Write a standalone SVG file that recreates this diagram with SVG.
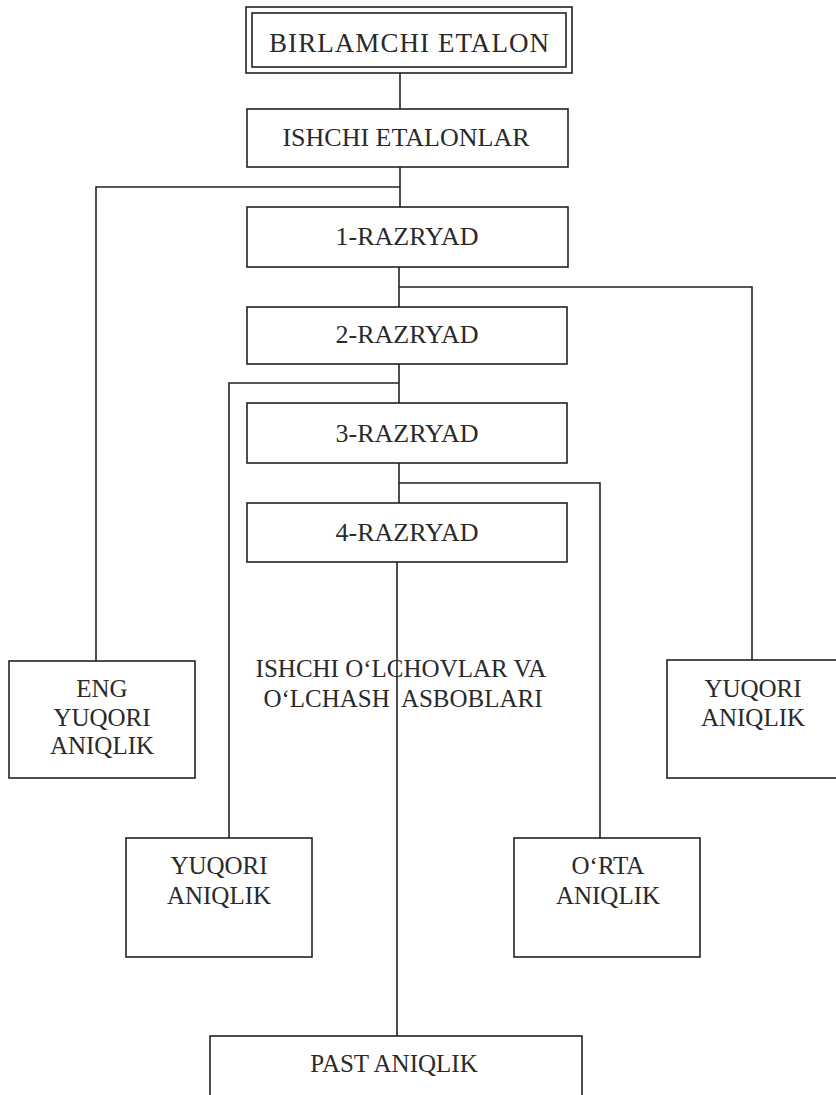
<svg xmlns="http://www.w3.org/2000/svg" width="836" height="1095" viewBox="0 0 836 1095">
<style>
.box{fill:#fff;stroke:#222;stroke-width:1.6}
.ln{fill:none;stroke:#222;stroke-width:1.6}
.t{font-family:"Liberation Serif","Times New Roman",serif;font-size:25px;fill:#2a2a2a;text-anchor:middle}
.u{font-size:26px}
</style>
<rect width="836" height="1095" fill="#fff"/>
<g id="connectors">
<path class="ln" d="M400 73 V109"/>
<path class="ln" d="M400 167 V207 M400 187 H96 V661"/>
<path class="ln" d="M399 267 V307 M399 287 H752 V660"/>
<path class="ln" d="M399 364 V403 M399 383 H229 V838"/>
<path class="ln" d="M399 463 V503 M399 483 H600 V838"/>
<path class="ln" d="M397 562 V1036"/>
</g>
<g id="birlamchi">
<rect class="box" x="246" y="7" width="326" height="66" stroke-width="2"/>
<rect class="box" x="252" y="13" width="314" height="54"/>
<text class="t" x="409" y="52" style="font-size:27px" textLength="280">BIRLAMCHI ETALON</text>
</g>
<g id="ishchi-etalonlar">
<rect class="box" x="247" y="109" width="321" height="58"/>
<text class="t u" x="406" y="146">ISHCHI ETALONLAR</text>
</g>
<g id="razryad1">
<rect class="box" x="247" y="207" width="321" height="60"/>
<text class="t u" x="407" y="245">1-RAZRYAD</text>
</g>
<g id="razryad2">
<rect class="box" x="247" y="307" width="320" height="57"/>
<text class="t u" x="407" y="343">2-RAZRYAD</text>
</g>
<g id="razryad3">
<rect class="box" x="247" y="403" width="320" height="60"/>
<text class="t u" x="407" y="442">3-RAZRYAD</text>
</g>
<g id="razryad4">
<rect class="box" x="247" y="503" width="320" height="59"/>
<text class="t u" x="407" y="541">4-RAZRYAD</text>
</g>
<g id="ishchi-olchovlar">
<text class="t" x="401" y="677">ISHCHI O‘LCHOVLAR VA</text>
<text class="t" x="403" y="707" xml:space="preserve">O‘LCHASH  ASBOBLARI</text>
</g>
<g id="eng-yuqori">
<rect class="box" x="9" y="661" width="186" height="117"/>
<text class="t" x="102" y="697">ENG</text>
<text class="t" x="102" y="726">YUQORI</text>
<text class="t" x="102" y="754">ANIQLIK</text>
</g>
<g id="yuqori-right">
<rect class="box" x="667" y="660" width="175" height="118"/>
<text class="t" x="753" y="697">YUQORI</text>
<text class="t" x="753" y="726">ANIQLIK</text>
</g>
<g id="yuqori-mid">
<rect class="box" x="126" y="838" width="186" height="119"/>
<text class="t" x="219" y="874">YUQORI</text>
<text class="t" x="219" y="904">ANIQLIK</text>
</g>
<g id="orta">
<rect class="box" x="514" y="838" width="186" height="119"/>
<text class="t" x="608" y="874">O‘RTA</text>
<text class="t" x="608" y="904">ANIQLIK</text>
</g>
<g id="past">
<rect class="box" x="210" y="1036" width="372" height="80"/>
<text class="t" x="394" y="1072">PAST ANIQLIK</text>
</g>
</svg>
